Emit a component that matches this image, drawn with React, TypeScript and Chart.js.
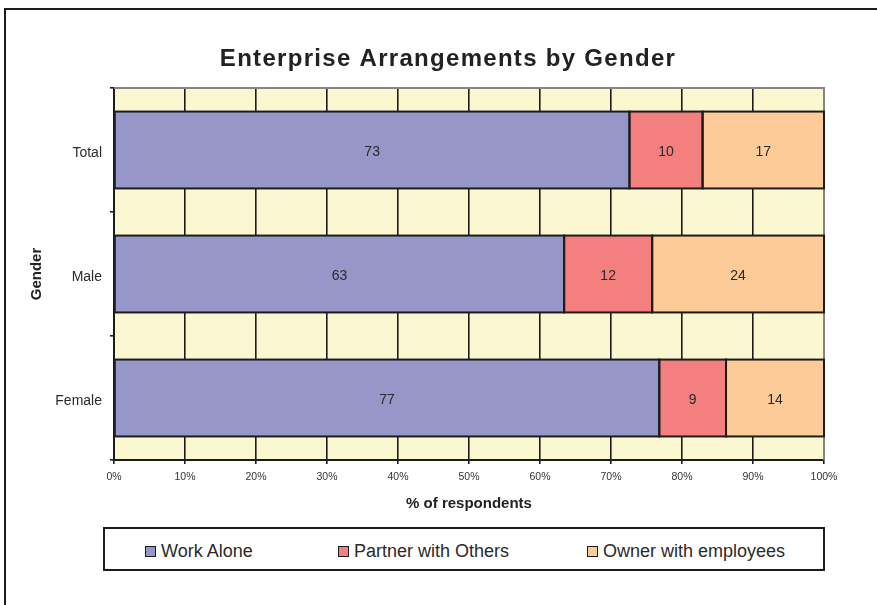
import { useEffect, useRef } from "react";
import { Chart, registerables } from "chart.js";

Chart.register(...registerables);

const chartTitle = "Enterprise Arrangements by Gender";
const xAxisTitle = "% of respondents";
const yAxisTitle = "Gender";
const categories = ["Total", "Male", "Female"];
const seriesLabels = ["Work Alone", "Partner with Others", "Owner with employees"];
const workAlone = [72.6, 63.4, 76.8];
const partnerWithOthers = [10.3, 12.4, 9.4];
const ownerWithEmployees = [17.1, 24.2, 13.8];
const xTickValues = [0, 10, 20, 30, 40, 50, 60, 70, 80, 90, 100];
const seriesColors = ["#9696C8", "#F37F7F", "#FDCB98"];

const FONT = '"Liberation Sans", Arial, Helvetica, sans-serif';
const INK = "#1c1c1c";

const decorPlugin = {
  id: "decor",
  beforeDraw(chart: any) {
    const { ctx, chartArea } = chart;
    const { left, top, right, bottom } = chartArea;
    ctx.save();
    ctx.fillStyle = "#FBF8D1";
    ctx.fillRect(left, top, right - left, bottom - top);
    ctx.restore();
  },
  beforeDatasetsDraw(chart: any) {
    const { ctx, chartArea } = chart;
    const { left, top, right, bottom } = chartArea;
    ctx.save();
    ctx.strokeStyle = "#858585";
    ctx.lineWidth = 2;
    ctx.beginPath();
    ctx.moveTo(left, top);
    ctx.lineTo(right, top);
    ctx.lineTo(right, bottom);
    ctx.stroke();
    ctx.restore();
  },
  afterDatasetsDraw(chart: any) {
    const { ctx } = chart;
    ctx.save();
    // bar outlines (shared 2px edges)
    ctx.strokeStyle = INK;
    ctx.lineWidth = 2;
    chart.data.datasets.forEach((_ds: any, di: number) => {
      const meta = chart.getDatasetMeta(di);
      meta.data.forEach((el: any) => {
        const x0 = Math.min(el.base, el.x);
        const x1 = Math.max(el.base, el.x);
        const y0 = el.y - el.height / 2;
        ctx.strokeRect(x0, y0, x1 - x0, el.height);
      });
    });
    // value labels
    ctx.font = `14px ${FONT}`;
    ctx.fillStyle = "#2a2a2a";
    ctx.textAlign = "center";
    ctx.textBaseline = "middle";
    chart.data.datasets.forEach((ds: any, di: number) => {
      const meta = chart.getDatasetMeta(di);
      meta.data.forEach((el: any, i: number) => {
        const p = el.getCenterPoint();
        ctx.fillText(String(Math.round(ds.data[i])), p.x, p.y + 2.5);
      });
    });
    ctx.restore();
  },
  afterDraw(chart: any) {
    const { ctx } = chart;
    ctx.save();
    ctx.font = `bold 24px ${FONT}`;
    (ctx as any).letterSpacing = "1.3px";
    ctx.fillStyle = "#222";
    ctx.textAlign = "center";
    ctx.textBaseline = "alphabetic";
    ctx.fillText(chartTitle, 448, 66);
    ctx.restore();
  },
};

export default function App() {
  const canvasRef = useRef<HTMLCanvasElement | null>(null);

  useEffect(() => {
    if (!canvasRef.current) return;
    const data = [workAlone, partnerWithOthers, ownerWithEmployees];
    const chart = new Chart(canvasRef.current, {
      type: "bar",
      data: {
        labels: categories,
        datasets: data.map((values, i) => ({
          label: seriesLabels[i],
          data: values,
          backgroundColor: seriesColors[i],
          borderWidth: 0,
          borderSkipped: false,
          barPercentage: 0.62,
          categoryPercentage: 1,
        })),
      },
      plugins: [decorPlugin],
      options: {
        indexAxis: "y",
        animation: false,
        responsive: false,
        maintainAspectRatio: false,
        devicePixelRatio: 1,
        layout: { padding: { top: 88, right: 53, bottom: 75, left: 0 } },
        plugins: {
          legend: { display: false },
          title: { display: false },
          tooltip: { enabled: false },
        },
        scales: {
          x: {
            stacked: true,
            min: 0,
            max: 100,
            afterBuildTicks: (scale: any) => {
              scale.ticks = xTickValues.map((v) => ({ value: v }));
            },
            afterFit: (scale: any) => {
              scale.height = 70;
            },
            ticks: {
              callback: (v: any) => `${v}%`,
              font: { family: FONT, size: 10.5 },
              color: "#333",
              padding: 7,
              maxRotation: 0,
              autoSkip: false,
            },
            grid: {
              color: (c: any) => (c.tick && c.tick.value === 100 ? "#858585" : INK),
              tickColor: INK,
              lineWidth: 1.6,
              tickLength: 4,
            },
            border: { display: true, color: INK, width: 2 },
            title: {
              display: true,
              text: xAxisTitle,
              font: { family: FONT, size: 15, weight: "bold" },
              color: "#222",
              padding: { top: 0, bottom: 17 },
            },
          },
          y: {
            stacked: true,
            afterFit: (scale: any) => {
              scale.width = 114;
            },
            ticks: {
              font: { family: FONT, size: 14 },
              color: "#2a2a2a",
              padding: 8,
              labelOffset: 3,
            },
            grid: {
              drawOnChartArea: false,
              offset: true,
              color: INK,
              lineWidth: 1.6,
              tickLength: 4,
            },
            border: { display: true, color: INK, width: 2 },
            title: {
              display: true,
              text: yAxisTitle,
              font: { family: FONT, size: 15, weight: "bold" },
              color: "#222",
              padding: { top: 28, bottom: 0 },
            },
          },
        },
      } as any,
    });
    return () => chart.destroy();
  }, []);

  const legendLefts = [40, 233, 482];

  return (
    <div
      style={{
        position: "fixed",
        left: 0,
        top: 0,
        width: 877,
        height: 605,
        overflow: "hidden",
        background: "#fff",
      }}
    >
      <div
        style={{
          position: "absolute",
          left: 4,
          top: 8,
          width: 1000,
          height: 1000,
          border: `2px solid ${INK}`,
        }}
      />
      <canvas
        ref={canvasRef}
        width={877}
        height={605}
        style={{ position: "absolute", left: 0, top: 0, width: 877, height: 605 }}
      />
      <div
        style={{
          position: "absolute",
          left: 103,
          top: 527,
          width: 722,
          height: 44,
          boxSizing: "border-box",
          border: `2px solid ${INK}`,
          background: "#fff",
          fontFamily: FONT,
        }}
      >
        {seriesLabels.map((label, i) => (
          <div
            key={label}
            style={{
              position: "absolute",
              left: legendLefts[i],
              top: 2,
              height: 40,
              display: "flex",
              alignItems: "center",
              whiteSpace: "nowrap",
            }}
          >
            <span
              style={{
                display: "inline-block",
                width: 11,
                height: 11,
                boxSizing: "border-box",
                border: `1.5px solid ${INK}`,
                background: seriesColors[i],
                marginRight: 5,
              }}
            />
            <span style={{ fontSize: 18, color: "#2a2a2a", lineHeight: "20px" }}>{label}</span>
          </div>
        ))}
      </div>
    </div>
  );
}
